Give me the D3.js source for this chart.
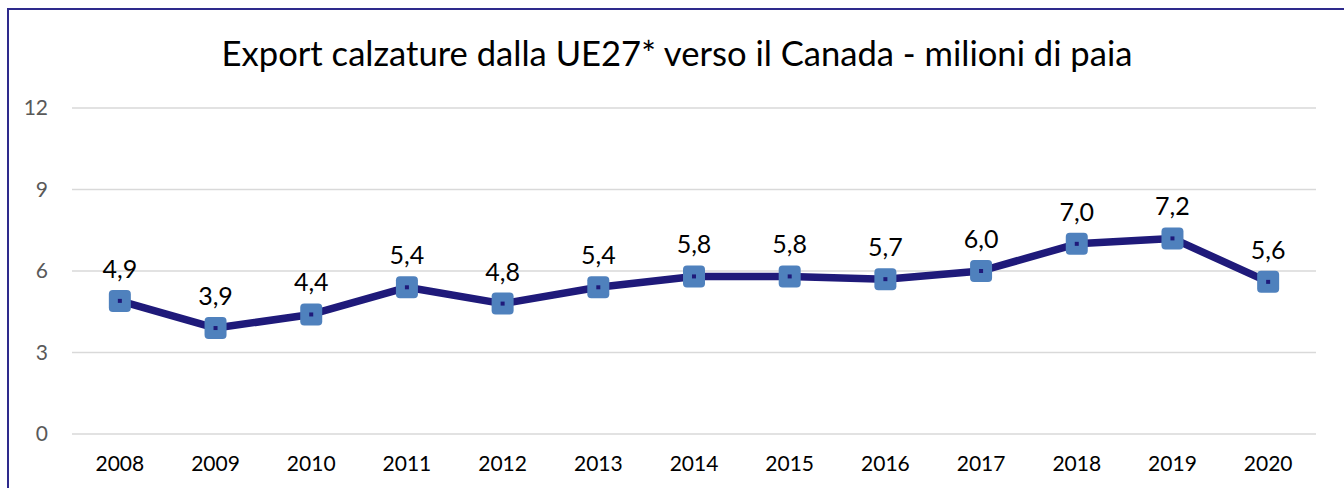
<html>
<head>
<meta charset="utf-8">
<script src="https://d3js.org/d3.v7.min.js"></script>
<style>
body { margin: 0; background: #ffffff; }
svg text { font-family: Lato, "Open Sans", sans-serif; }
</style>
</head>
<body>
<script type="text/javascript">

// chart data
var years = ["2008", "2009", "2010", "2011", "2012", "2013", "2014", "2015", "2016", "2017", "2018", "2019", "2020"];
var values = [4.9, 3.9, 4.4, 5.4, 4.8, 5.4, 5.8, 5.8, 5.7, 6.0, 7.0, 7.2, 5.6];
var yTicks = [0, 3, 6, 9, 12];
var title = "Export calzature dalla UE27* verso il Canada - milioni di paia";

var W = 1344, H = 488;
var margin = {top: 108, right: 28, bottom: 54, left: 72};

var svg = d3.select("body").append("svg")
    .attr("width", W)
    .attr("height", H);

// chart area border (top + left visible, rest runs off the page)
svg.append("rect")
    .attr("x", 8)
    .attr("y", 9)
    .attr("width", W + 20)
    .attr("height", H + 20)
    .attr("fill", "none")
    .attr("stroke", "#2e2a8c")
    .attr("stroke-width", 2);

// title
var t = svg.append("text")
    .attr("x", 677)
    .attr("y", 66)
    .attr("text-anchor", "middle")
    .attr("fill", "#000")
    .style("font-size", "31px")
    .text(title);
var tw = t.node().getComputedTextLength();
t.style("font-size", (31 * 911 / tw) + "px");

var x = d3.scaleBand()
    .domain(years)
    .range([margin.left, W - margin.right]);

var y = d3.scaleLinear()
    .domain([0, 12])
    .range([H - margin.bottom, margin.top]);

// gridlines
svg.append("g")
    .selectAll("line")
    .data(yTicks)
  .enter().append("line")
    .attr("x1", margin.left)
    .attr("x2", W - margin.right)
    .attr("y1", function(d) { return y(d); })
    .attr("y2", function(d) { return y(d); })
    .attr("stroke", "#d9d9d9")
    .attr("stroke-width", 1.5);

// y axis labels
var yAxis = svg.append("g")
    .attr("transform", "translate(" + (margin.left - 24) + ",0)")
    .call(d3.axisLeft(y).tickValues(yTicks).tickSize(0).tickPadding(0));
yAxis.select(".domain").remove();
yAxis.selectAll("text")
    .attr("fill", "#595959")
    .style("font-size", "21px");

// x axis labels
var xAxis = svg.append("g")
    .attr("transform", "translate(0," + (H - margin.bottom) + ")")
    .call(d3.axisBottom(x).tickSize(0).tickPadding(22));
xAxis.select(".domain").remove();
xAxis.selectAll("text")
    .attr("fill", "#000")
    .style("font-size", "21px");

var cx = function(d, i) { return x(years[i]) + x.bandwidth() / 2; };

// line
var line = d3.line()
    .x(function(d, i) { return cx(d, i); })
    .y(function(d) { return y(d); });

svg.append("path")
    .datum(values)
    .attr("d", line)
    .attr("fill", "none")
    .attr("stroke", "#1f1a7a")
    .attr("stroke-width", 7.5)
    .attr("stroke-linejoin", "round");

// markers
var pts = svg.append("g").selectAll("g")
    .data(values)
  .enter().append("g")
    .attr("transform", function(d, i) { return "translate(" + cx(d, i) + "," + y(d) + ")"; });

pts.append("rect")
    .attr("x", -11).attr("y", -11)
    .attr("width", 22).attr("height", 22)
    .attr("rx", 4)
    .attr("fill", "#4f81bd");

pts.append("rect")
    .attr("x", -2).attr("y", -2)
    .attr("width", 4).attr("height", 4)
    .attr("fill", "#1f1a7a");

// value labels
var fmt = d3.format(".1f");
pts.append("text")
    .attr("y", -23)
    .attr("text-anchor", "middle")
    .attr("fill", "#000")
    .style("font-size", "25px")
    .text(function(d) { return fmt(d).replace(".", ","); });

</script>
</body>
</html>
